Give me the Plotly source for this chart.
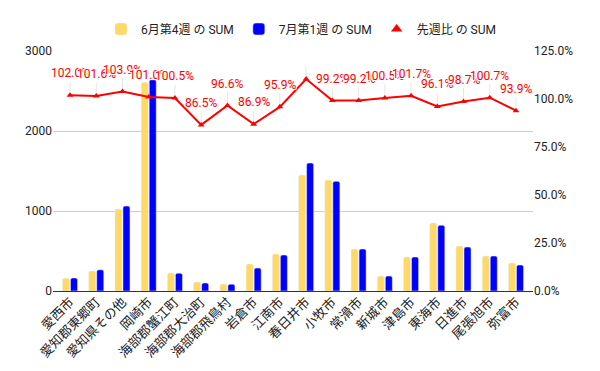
import plotly.graph_objects as go

categories = ["愛西市", "愛知郡東郷町", "愛知県その他", "岡崎市", "海部郡蟹江町", "海部郡大治町",
              "海部郡飛鳥村", "岩倉市", "江南市", "春日井市", "小牧市", "常滑市", "新城市",
              "津島市", "東海市", "日進市", "尾張旭市", "弥富市"]
june_w4 = [160, 250, 1025, 2610, 225, 112, 87, 337, 462, 1450, 1387, 525, 187, 425, 850, 562, 437, 350]
july_w1 = [163, 265, 1062, 2640, 222, 100, 85, 287, 450, 1600, 1371, 525, 187, 425, 821, 550, 437, 325]
ratio = [102.0, 101.6, 103.9, 101.0, 100.5, 86.5, 96.6, 86.9, 95.9, 110.4,
         99.2, 99.2, 100.5, 101.7, 96.1, 98.7, 100.7, 93.9]
hidden_labels = ["春日井市"]  # label not shown in the original (collision)
left_ticks = [0, 1000, 2000, 3000]
right_ticks = [0, 25, 50, 75, 100, 125]

name_june = "6月第4週 の SUM"
name_july = "7月第1週 の SUM"
name_ratio = "先週比 の SUM"

FONT = "Roboto, 'Noto Sans CJK JP', sans-serif"
YELLOW = "#ffd966"
BLUE = "#0000ff"
RED = "#ff0000"
TXT = "#222222"

# page body has an 8px default margin; figure size compensates for it
W, H = 584, 355

fig = go.Figure()
fig.add_trace(go.Bar(x=categories, y=june_w4, name=name_june, marker=dict(color=YELLOW)))
fig.add_trace(go.Bar(x=categories, y=july_w1, name=name_july, marker=dict(color=BLUE)))
fig.add_trace(go.Scatter(
    x=categories, y=ratio, name=name_ratio, yaxis="y2", mode="lines+markers",
    line=dict(color=RED, width=2),
    marker=dict(symbol="triangle-up", size=6, color=RED),
    error_y=dict(type="data", symmetric=False, array=[7] * len(ratio),
                 arrayminus=[0] * len(ratio), color="#e6e6e6", thickness=1, width=0),
    showlegend=False,
))
# legend-only entry (triangle symbol as in the reference legend)
fig.add_trace(go.Scatter(x=[None], y=[None], name=name_ratio, yaxis="y2", mode="markers",
                         marker=dict(symbol="triangle-up", size=10, color=RED)))

for c, v in zip(categories, ratio):
    if c in hidden_labels:
        continue
    fig.add_annotation(
        x=c, y=v, xref="x", yref="y2", text=f"{v:.1f}%", showarrow=False,
        yshift=22, yanchor="middle", xanchor="center",
        font=dict(family=FONT, size=12, color=RED,
                  shadow="1px 1px 0 white, -1px -1px 0 white, 1px -1px 0 white, -1px 1px 0 white"),
    )

fig.update_layout(
    width=W, height=H,
    margin=dict(l=45, r=59, t=43, b=72, autoexpand=False),
    paper_bgcolor="white", plot_bgcolor="white",
    font=dict(family=FONT, size=12, color=TXT),
    barmode="group", bargap=0.39, bargroupgap=0.12, barcornerradius=2,
    showlegend=True,
    legend=dict(orientation="h", xref="container", yref="container",
                x=293 / W, xanchor="center", y=(H - 21) / H, yanchor="middle",
                font=dict(size=12, color=TXT), itemwidth=30, traceorder="normal"),
    xaxis=dict(type="category", range=[-0.648, 17.648], tickangle=-45, showgrid=False,
               ticks="", showline=False, automargin=False,
               tickfont=dict(size=13, color=TXT)),
    yaxis=dict(range=[0, 3000], tickmode="array", tickvals=left_ticks,
               ticktext=[str(t) for t in left_ticks], showgrid=True,
               gridcolor="#cccccc", gridwidth=1, zeroline=True, zerolinecolor="#333333",
               zerolinewidth=1, ticks="", automargin=False, tickfont=dict(size=12, color=TXT)),
    yaxis2=dict(overlaying="y", side="right", range=[0, 125], tickmode="array",
                tickvals=right_ticks, ticktext=[f"{t:.1f}%" for t in right_ticks],
                showgrid=False, zeroline=False, ticks="", automargin=False,
                tickfont=dict(size=12, color=TXT)),
)

fig.write_html("out.html")
